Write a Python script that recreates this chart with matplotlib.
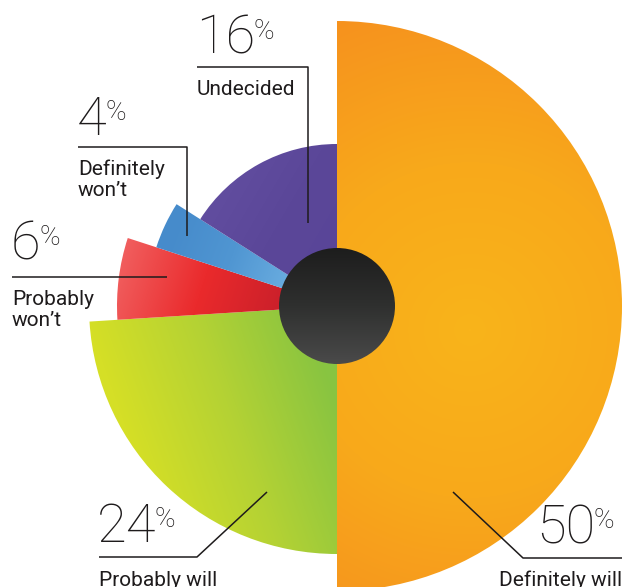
import numpy as np
import matplotlib.pyplot as plt
from matplotlib.patches import Wedge, Circle
from matplotlib.colors import LinearSegmentedColormap

# survey answers, clockwise from 12 o'clock
labels = ["Definitely will", "Probably will", "Probably\nwon\u2019t", "Definitely\nwon\u2019t", "Undecided"]
shares = [50, 24, 6, 4, 16]
pct_text = ["50", "24", "6", "4", "16"]

# styling (pixel units, y pointing down)
W, H = 623, 587
cx, cy = 337, 306
radii = [285, 248, 220, 190, 162]
hole_r = 58
grads = [
    (["#F9B41A", "#F8A91B", "#F6921E"], (470, 330), (337, 22), True),
    (["#D5DF26", "#B4D234", "#88C441"], (140, 470), (337, 400), False),
    (["#F16060", "#EA2A2C", "#C81F2A"], (120, 250), (290, 305), False),
    (["#468BCB", "#5096D2", "#6AADE0"], (170, 240), (290, 285), False),
    (["#624EA0", "#5B4799", "#594598"], (200, 200), (337, 280), False),
]
ink = "#1E1B1C"

plt.rcParams['font.family'] = ['Roboto', 'DejaVu Sans']

fig = plt.figure(figsize=(W / 100, H / 100), dpi=100)
ax = fig.add_axes([0, 0, 1, 1])
ax.axis('off')

yy, xx = np.mgrid[0:H, 0:W] + 0.5


def gradient_fill(patch, colors, p0, p1, radial, z):
    patch.set_facecolor('none')
    patch.set_edgecolor('none')
    ax.add_patch(patch)
    (x0, y0), (x1, y1) = p0, p1
    if radial:
        t = np.hypot(xx - x0, yy - y0) / np.hypot(x1 - x0, y1 - y0)
    else:
        t = ((xx - x0) * (x1 - x0) + (yy - y0) * (y1 - y0)) / ((x1 - x0) ** 2 + (y1 - y0) ** 2)
    t = np.clip(t, 0, 1)
    cmap = LinearSegmentedColormap.from_list('g', colors)
    im = ax.imshow(t, cmap=cmap, vmin=0, vmax=1, extent=(0, W, H, 0),
                   interpolation='bilinear', zorder=z)
    im.set_clip_path(patch)


start = 90.0
for i, (s, r) in enumerate(zip(shares, radii)):
    end = start - s * 3.6
    # y axis is flipped, so screen angles are mirrored
    wedge = Wedge((cx, cy), r, -start, -end)
    cols, p0, p1, radial = grads[i]
    gradient_fill(wedge, cols, p0, p1, radial, 1)
    start = end

gradient_fill(Circle((cx, cy), hole_r), ["#1D1D1D", "#2F302F", "#4A4A4A"],
              (cx, cy - hole_r), (cx, cy + hole_r), False, 2)

# leader lines
leaders = [
    [(622, 558), (523, 558), (453, 492)],
    [(99, 557), (197, 557), (267, 492)],
    [(12, 277), (167, 277)],
    [(78, 147), (187, 147), (187, 236)],
    [(197, 67), (308, 67), (308, 223)],
]
for pts in leaders:
    px, py = zip(*pts)
    ax.plot(px, py, color=ink, lw=1.1, zorder=3, solid_capstyle='butt')

# number positions: (x, baseline, align)
num_pos = [(595, 543, 'right'), (97, 542, 'left'), (11, 260, 'left'), (77, 135, 'left'), (196, 54, 'left')]
lab_pos = [(622, 586, 'right'), (99, 586, 'left'), (12, 305, 'left'), (78, 175, 'left'), (197, 95, 'left')]

for i in range(len(shares)):
    x, y, ha = num_pos[i]
    num = ax.text(x, y, pct_text[i], fontsize=39, fontweight='light', color=ink,
                  ha=ha, va='baseline', zorder=4)
    # superscript percent sign hangs off the number's top-right corner
    ax.annotate("%", xy=(1, 1), xycoords=num, xytext=(-1, -3), textcoords='offset points',
                fontsize=20, fontweight='light', color=ink, ha='left', va='top', zorder=4)
    x, y, ha = lab_pos[i]
    for k, line in enumerate(labels[i].split("\n")):
        ax.text(x, y + 21 * k, line, fontsize=15, color=ink,
                ha=ha, va='baseline', zorder=4)

ax.set_xlim(0, W)
ax.set_ylim(H, 0)
ax.set_aspect('equal')

fig.savefig("out.png", dpi=100)
